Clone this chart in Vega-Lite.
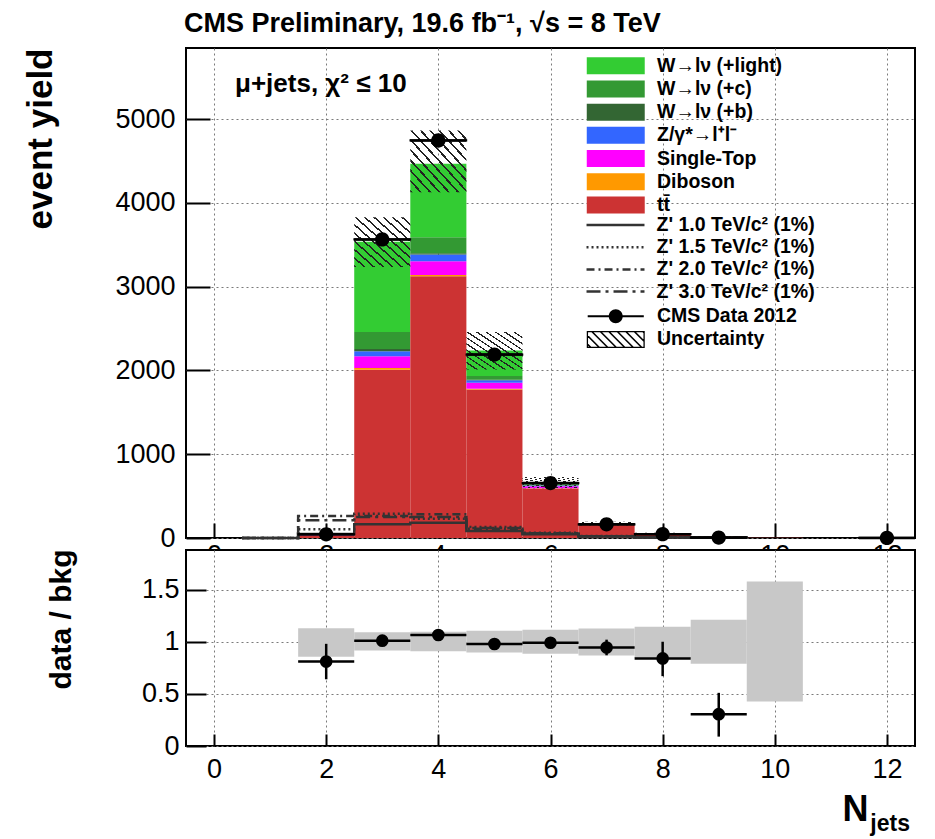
{
  "$schema": "https://vega.github.io/schema/vega-lite/v6.json",
  "background": "white",
  "padding": {"left": 22, "top": 10, "right": 10, "bottom": 0},
  "title": {
    "text": "CMS Preliminary, 19.6 fb⁻¹, √s = 8 TeV",
    "anchor": "start",
    "frame": "bounds",
    "dx": 162,
    "offset": 9,
    "font": "Liberation Sans, Arial, sans-serif",
    "fontSize": 27,
    "fontWeight": "bold",
    "color": "black"
  },
  "datasets": {
    "bkg": [
      {"lo": 1.5, "hi": 2.5, "proc": "tt̄", "k": 0, "ev": 30},
      {"lo": 1.5, "hi": 2.5, "proc": "Diboson", "k": 1, "ev": 1},
      {"lo": 1.5, "hi": 2.5, "proc": "Single-Top", "k": 2, "ev": 4},
      {"lo": 1.5, "hi": 2.5, "proc": "Z/γ*→l⁺l⁻", "k": 3, "ev": 3},
      {"lo": 1.5, "hi": 2.5, "proc": "W→lν (+b)", "k": 4, "ev": 1},
      {"lo": 1.5, "hi": 2.5, "proc": "W→lν (+c)", "k": 5, "ev": 3},
      {"lo": 1.5, "hi": 2.5, "proc": "W→lν (+light)", "k": 6, "ev": 12},
      {"lo": 2.5, "hi": 3.5, "proc": "tt̄", "k": 0, "ev": 2010},
      {"lo": 2.5, "hi": 3.5, "proc": "Diboson", "k": 1, "ev": 20},
      {"lo": 2.5, "hi": 3.5, "proc": "Single-Top", "k": 2, "ev": 140},
      {"lo": 2.5, "hi": 3.5, "proc": "Z/γ*→l⁺l⁻", "k": 3, "ev": 61},
      {"lo": 2.5, "hi": 3.5, "proc": "W→lν (+b)", "k": 4, "ev": 24},
      {"lo": 2.5, "hi": 3.5, "proc": "W→lν (+c)", "k": 5, "ev": 203},
      {"lo": 2.5, "hi": 3.5, "proc": "W→lν (+light)", "k": 6, "ev": 1078},
      {"lo": 3.5, "hi": 4.5, "proc": "tt̄", "k": 0, "ev": 3126},
      {"lo": 3.5, "hi": 4.5, "proc": "Diboson", "k": 1, "ev": 15},
      {"lo": 3.5, "hi": 4.5, "proc": "Single-Top", "k": 2, "ev": 164},
      {"lo": 3.5, "hi": 4.5, "proc": "Z/γ*→l⁺l⁻", "k": 3, "ev": 80},
      {"lo": 3.5, "hi": 4.5, "proc": "W→lν (+b)", "k": 4, "ev": 16},
      {"lo": 3.5, "hi": 4.5, "proc": "W→lν (+c)", "k": 5, "ev": 191},
      {"lo": 3.5, "hi": 4.5, "proc": "W→lν (+light)", "k": 6, "ev": 875},
      {"lo": 4.5, "hi": 5.5, "proc": "tt̄", "k": 0, "ev": 1774},
      {"lo": 4.5, "hi": 5.5, "proc": "Diboson", "k": 1, "ev": 8},
      {"lo": 4.5, "hi": 5.5, "proc": "Single-Top", "k": 2, "ev": 71},
      {"lo": 4.5, "hi": 5.5, "proc": "Z/γ*→l⁺l⁻", "k": 3, "ev": 29},
      {"lo": 4.5, "hi": 5.5, "proc": "W→lν (+b)", "k": 4, "ev": 8},
      {"lo": 4.5, "hi": 5.5, "proc": "W→lν (+c)", "k": 5, "ev": 43},
      {"lo": 4.5, "hi": 5.5, "proc": "W→lν (+light)", "k": 6, "ev": 307},
      {"lo": 5.5, "hi": 6.5, "proc": "tt̄", "k": 0, "ev": 590},
      {"lo": 5.5, "hi": 6.5, "proc": "Diboson", "k": 1, "ev": 3},
      {"lo": 5.5, "hi": 6.5, "proc": "Single-Top", "k": 2, "ev": 25},
      {"lo": 5.5, "hi": 6.5, "proc": "Z/γ*→l⁺l⁻", "k": 3, "ev": 8},
      {"lo": 5.5, "hi": 6.5, "proc": "W→lν (+b)", "k": 4, "ev": 5},
      {"lo": 5.5, "hi": 6.5, "proc": "W→lν (+c)", "k": 5, "ev": 10},
      {"lo": 5.5, "hi": 6.5, "proc": "W→lν (+light)", "k": 6, "ev": 22},
      {"lo": 6.5, "hi": 7.5, "proc": "tt̄", "k": 0, "ev": 158},
      {"lo": 6.5, "hi": 7.5, "proc": "Diboson", "k": 1, "ev": 1},
      {"lo": 6.5, "hi": 7.5, "proc": "Single-Top", "k": 2, "ev": 5},
      {"lo": 6.5, "hi": 7.5, "proc": "Z/γ*→l⁺l⁻", "k": 3, "ev": 2},
      {"lo": 6.5, "hi": 7.5, "proc": "W→lν (+b)", "k": 4, "ev": 1},
      {"lo": 6.5, "hi": 7.5, "proc": "W→lν (+c)", "k": 5, "ev": 2},
      {"lo": 6.5, "hi": 7.5, "proc": "W→lν (+light)", "k": 6, "ev": 4},
      {"lo": 7.5, "hi": 8.5, "proc": "tt̄", "k": 0, "ev": 50},
      {"lo": 7.5, "hi": 8.5, "proc": "Diboson", "k": 1, "ev": 0.5},
      {"lo": 7.5, "hi": 8.5, "proc": "Single-Top", "k": 2, "ev": 1.5},
      {"lo": 7.5, "hi": 8.5, "proc": "Z/γ*→l⁺l⁻", "k": 3, "ev": 0.5},
      {"lo": 7.5, "hi": 8.5, "proc": "W→lν (+b)", "k": 4, "ev": 0.5},
      {"lo": 7.5, "hi": 8.5, "proc": "W→lν (+c)", "k": 5, "ev": 0.5},
      {"lo": 7.5, "hi": 8.5, "proc": "W→lν (+light)", "k": 6, "ev": 1.5},
      {"lo": 8.5, "hi": 9.5, "proc": "tt̄", "k": 0, "ev": 14.5},
      {"lo": 8.5, "hi": 9.5, "proc": "Single-Top", "k": 2, "ev": 0.6},
      {"lo": 8.5, "hi": 9.5, "proc": "W→lν (+light)", "k": 6, "ev": 1.3},
      {"lo": 9.5, "hi": 10.5, "proc": "tt̄", "k": 0, "ev": 3},
      {"lo": 9.5, "hi": 10.5, "proc": "Single-Top", "k": 2, "ev": 0.2},
      {"lo": 9.5, "hi": 10.5, "proc": "W→lν (+light)", "k": 6, "ev": 0.3},
      {"lo": 10.5, "hi": 11.5, "proc": "tt̄", "k": 0, "ev": 0.8}
    ],
    "unc": [
      {"lo": 1.5, "hi": 2.5, "dn": 47, "up": 61},
      {"lo": 2.5, "hi": 3.5, "dn": 3235, "up": 3830},
      {"lo": 3.5, "hi": 4.5, "dn": 4129, "up": 4865},
      {"lo": 4.5, "hi": 5.5, "dn": 2013, "up": 2458},
      {"lo": 5.5, "hi": 6.5, "dn": 593, "up": 728},
      {"lo": 6.5, "hi": 7.5, "dn": 150, "up": 195},
      {"lo": 7.5, "hi": 8.5, "dn": 46, "up": 63},
      {"lo": 8.5, "hi": 9.5, "dn": 13, "up": 20},
      {"lo": 9.5, "hi": 10.5, "dn": 1.5, "up": 5.5}
    ],
    "sig": [
      {"sig": "Z' 1.0 TeV/c² (1%)", "edge": 0.5, "ev": 0},
      {"sig": "Z' 1.0 TeV/c² (1%)", "edge": 1.5, "ev": 48},
      {"sig": "Z' 1.0 TeV/c² (1%)", "edge": 2.5, "ev": 163},
      {"sig": "Z' 1.0 TeV/c² (1%)", "edge": 3.5, "ev": 183},
      {"sig": "Z' 1.0 TeV/c² (1%)", "edge": 4.5, "ev": 84},
      {"sig": "Z' 1.0 TeV/c² (1%)", "edge": 5.5, "ev": 44},
      {"sig": "Z' 1.0 TeV/c² (1%)", "edge": 6.5, "ev": 18},
      {"sig": "Z' 1.0 TeV/c² (1%)", "edge": 7.5, "ev": 6},
      {"sig": "Z' 1.0 TeV/c² (1%)", "edge": 8.5, "ev": 2},
      {"sig": "Z' 1.0 TeV/c² (1%)", "edge": 9.5, "ev": 0},
      {"sig": "Z' 1.5 TeV/c² (1%)", "edge": 0.5, "ev": 0},
      {"sig": "Z' 1.5 TeV/c² (1%)", "edge": 1.5, "ev": 104},
      {"sig": "Z' 1.5 TeV/c² (1%)", "edge": 2.5, "ev": 290},
      {"sig": "Z' 1.5 TeV/c² (1%)", "edge": 3.5, "ev": 231},
      {"sig": "Z' 1.5 TeV/c² (1%)", "edge": 4.5, "ev": 131},
      {"sig": "Z' 1.5 TeV/c² (1%)", "edge": 5.5, "ev": 64},
      {"sig": "Z' 1.5 TeV/c² (1%)", "edge": 6.5, "ev": 25},
      {"sig": "Z' 1.5 TeV/c² (1%)", "edge": 7.5, "ev": 8},
      {"sig": "Z' 1.5 TeV/c² (1%)", "edge": 8.5, "ev": 3},
      {"sig": "Z' 1.5 TeV/c² (1%)", "edge": 9.5, "ev": 0},
      {"sig": "Z' 2.0 TeV/c² (1%)", "edge": 0.5, "ev": 0},
      {"sig": "Z' 2.0 TeV/c² (1%)", "edge": 1.5, "ev": 262},
      {"sig": "Z' 2.0 TeV/c² (1%)", "edge": 2.5, "ev": 262},
      {"sig": "Z' 2.0 TeV/c² (1%)", "edge": 3.5, "ev": 283},
      {"sig": "Z' 2.0 TeV/c² (1%)", "edge": 4.5, "ev": 110},
      {"sig": "Z' 2.0 TeV/c² (1%)", "edge": 5.5, "ev": 55},
      {"sig": "Z' 2.0 TeV/c² (1%)", "edge": 6.5, "ev": 20},
      {"sig": "Z' 2.0 TeV/c² (1%)", "edge": 7.5, "ev": 7},
      {"sig": "Z' 2.0 TeV/c² (1%)", "edge": 8.5, "ev": 2},
      {"sig": "Z' 2.0 TeV/c² (1%)", "edge": 9.5, "ev": 0},
      {"sig": "Z' 3.0 TeV/c² (1%)", "edge": 0.5, "ev": 0},
      {"sig": "Z' 3.0 TeV/c² (1%)", "edge": 1.5, "ev": 211},
      {"sig": "Z' 3.0 TeV/c² (1%)", "edge": 2.5, "ev": 250},
      {"sig": "Z' 3.0 TeV/c² (1%)", "edge": 3.5, "ev": 250},
      {"sig": "Z' 3.0 TeV/c² (1%)", "edge": 4.5, "ev": 120},
      {"sig": "Z' 3.0 TeV/c² (1%)", "edge": 5.5, "ev": 58},
      {"sig": "Z' 3.0 TeV/c² (1%)", "edge": 6.5, "ev": 22},
      {"sig": "Z' 3.0 TeV/c² (1%)", "edge": 7.5, "ev": 8},
      {"sig": "Z' 3.0 TeV/c² (1%)", "edge": 8.5, "ev": 3},
      {"sig": "Z' 3.0 TeV/c² (1%)", "edge": 9.5, "ev": 0}
    ],
    "obs": [
      {"n": 2, "lo": 1.5, "hi": 2.5, "ev": 44},
      {"n": 3, "lo": 2.5, "hi": 3.5, "ev": 3565},
      {"n": 4, "lo": 3.5, "hi": 4.5, "ev": 4746},
      {"n": 5, "lo": 4.5, "hi": 5.5, "ev": 2190},
      {"n": 6, "lo": 5.5, "hi": 6.5, "ev": 656},
      {"n": 7, "lo": 6.5, "hi": 7.5, "ev": 163},
      {"n": 8, "lo": 7.5, "hi": 8.5, "ev": 46},
      {"n": 9, "lo": 8.5, "hi": 9.5, "ev": 5},
      {"n": 12, "lo": 11.5, "hi": 12.5, "ev": 1}
    ],
    "ratio": [
      {"n": 2, "lo": 1.5, "hi": 2.5, "r": 0.81, "rlo": 0.64, "rhi": 0.98, "blo": 0.856, "bhi": 1.13},
      {"n": 3, "lo": 2.5, "hi": 3.5, "r": 1.01, "rlo": 0.99, "rhi": 1.03, "blo": 0.917, "bhi": 1.09},
      {"n": 4, "lo": 3.5, "hi": 4.5, "r": 1.065, "rlo": 1.05, "rhi": 1.08, "blo": 0.91, "bhi": 1.095},
      {"n": 5, "lo": 4.5, "hi": 5.5, "r": 0.978, "rlo": 0.958, "rhi": 0.998, "blo": 0.897, "bhi": 1.105},
      {"n": 6, "lo": 5.5, "hi": 6.5, "r": 0.99, "rlo": 0.955, "rhi": 1.025, "blo": 0.885, "bhi": 1.115},
      {"n": 7, "lo": 6.5, "hi": 7.5, "r": 0.945, "rlo": 0.87, "rhi": 1.02, "blo": 0.868, "bhi": 1.128},
      {"n": 8, "lo": 7.5, "hi": 8.5, "r": 0.84, "rlo": 0.67, "rhi": 1.0, "blo": 0.843, "bhi": 1.144},
      {"n": 9, "lo": 8.5, "hi": 9.5, "r": 0.305, "rlo": 0.09, "rhi": 0.51, "blo": 0.79, "bhi": 1.21},
      {"n": 10, "lo": 9.5, "hi": 10.5, "r": null, "rlo": null, "rhi": null, "blo": 0.426, "bhi": 1.577}
    ]
  },
  "spacing": 12,
  "bounds": "flush",
  "resolve": {
    "scale": {"x": "independent", "y": "independent", "fill": "independent", "strokeDash": "independent", "shape": "independent"},
    "legend": {"fill": "independent", "strokeDash": "independent", "shape": "independent"}
  },
  "vconcat": [
    {
      "width": 729,
      "height": 490,
      "layer": [
        {
          "data": {"name": "bkg"},
          "transform": [
            {"stack": "ev", "groupby": ["lo"], "sort": [{"field": "k", "order": "ascending"}], "as": ["y0", "y1"]}
          ],
          "mark": {"type": "rect"},
          "encoding": {
            "x": {
              "field": "lo", "type": "quantitative",
              "scale": {"domain": [-0.5, 12.5], "nice": false, "zero": false},
              "axis": {
                "values": [0, 2, 4, 6, 8, 10, 12], "format": "d", "title": null,
                "grid": true, "tickSize": -15, "labelPadding": 19,
                "labelFont": "Liberation Sans, Arial, sans-serif", "labelFontSize": 27
              }
            },
            "x2": {"field": "hi"},
            "y": {
              "field": "y0", "type": "quantitative",
              "scale": {"domain": [0, 5850], "nice": false},
              "axis": {
                "values": [0, 1000, 2000, 3000, 4000, 5000], "format": "d",
                "grid": true, "tickSize": -24, "labelPadding": 35,
                "labelFont": "Liberation Sans, Arial, sans-serif", "labelFontSize": 27,
                "title": "event yield", "titleFont": "Liberation Sans, Arial, sans-serif", "titleFontSize": 35,
                "titleFontWeight": "bold", "titleAngle": 270, "titleAlign": "right",
                "titleBaseline": "alphabetic", "titleX": -135, "titleY": 0
              }
            },
            "y2": {"field": "y1"},
            "fill": {
              "field": "proc", "type": "nominal",
              "scale": {
                "domain": ["W→lν (+light)", "W→lν (+c)", "W→lν (+b)", "Z/γ*→l⁺l⁻", "Single-Top", "Diboson", "tt̄"],
                "range": ["#33cc33", "#339933", "#336633", "#3366ff", "#ff00ff", "#ff9900", "#cc3333"]
              },
              "legend": {
                "title": null, "orient": "none", "legendX": 420, "legendY": 8,
                "padding": 0, "rowPadding": 2.2,
                "symbolType": "M-3.41,-1H3.41V1H-3.41Z", "symbolSize": 289, "symbolStrokeWidth": 0,
                "labelFont": "Liberation Sans, Arial, sans-serif", "labelFontSize": 19.5, "labelFontWeight": "bold",
                "labelColor": "black", "labelOffset": 31.5, "labelLimit": 400
              }
            }
          }
        },
        {
          "data": {"name": "unc"},
          "mark": {
            "type": "rect",
            "fill": {
              "gradient": "linear", "x1": 0, "y1": 1, "x2": 1, "y2": 0,
              "stops": [
                {"offset": 0, "color": "#222"}, {"offset": 0.02, "color": "#222"}, {"offset": 0.02, "color": "rgba(0,0,0,0)"}, {"offset": 0.0833, "color": "rgba(0,0,0,0)"},
                {"offset": 0.0833, "color": "#222"}, {"offset": 0.1033, "color": "#222"}, {"offset": 0.1033, "color": "rgba(0,0,0,0)"}, {"offset": 0.1667, "color": "rgba(0,0,0,0)"},
                {"offset": 0.1667, "color": "#222"}, {"offset": 0.1867, "color": "#222"}, {"offset": 0.1867, "color": "rgba(0,0,0,0)"}, {"offset": 0.25, "color": "rgba(0,0,0,0)"},
                {"offset": 0.25, "color": "#222"}, {"offset": 0.27, "color": "#222"}, {"offset": 0.27, "color": "rgba(0,0,0,0)"}, {"offset": 0.3333, "color": "rgba(0,0,0,0)"},
                {"offset": 0.3333, "color": "#222"}, {"offset": 0.3533, "color": "#222"}, {"offset": 0.3533, "color": "rgba(0,0,0,0)"}, {"offset": 0.4167, "color": "rgba(0,0,0,0)"},
                {"offset": 0.4167, "color": "#222"}, {"offset": 0.4367, "color": "#222"}, {"offset": 0.4367, "color": "rgba(0,0,0,0)"}, {"offset": 0.5, "color": "rgba(0,0,0,0)"},
                {"offset": 0.5, "color": "#222"}, {"offset": 0.52, "color": "#222"}, {"offset": 0.52, "color": "rgba(0,0,0,0)"}, {"offset": 0.5833, "color": "rgba(0,0,0,0)"},
                {"offset": 0.5833, "color": "#222"}, {"offset": 0.6033, "color": "#222"}, {"offset": 0.6033, "color": "rgba(0,0,0,0)"}, {"offset": 0.6667, "color": "rgba(0,0,0,0)"},
                {"offset": 0.6667, "color": "#222"}, {"offset": 0.6867, "color": "#222"}, {"offset": 0.6867, "color": "rgba(0,0,0,0)"}, {"offset": 0.75, "color": "rgba(0,0,0,0)"},
                {"offset": 0.75, "color": "#222"}, {"offset": 0.77, "color": "#222"}, {"offset": 0.77, "color": "rgba(0,0,0,0)"}, {"offset": 0.8333, "color": "rgba(0,0,0,0)"},
                {"offset": 0.8333, "color": "#222"}, {"offset": 0.8533, "color": "#222"}, {"offset": 0.8533, "color": "rgba(0,0,0,0)"}, {"offset": 0.9167, "color": "rgba(0,0,0,0)"},
                {"offset": 0.9167, "color": "#222"}, {"offset": 0.9367, "color": "#222"}, {"offset": 0.9367, "color": "rgba(0,0,0,0)"}, {"offset": 1, "color": "rgba(0,0,0,0)"}
              ]
            }
          },
          "encoding": {
            "x": {"field": "lo", "type": "quantitative"},
            "x2": {"field": "hi"},
            "y": {"field": "dn", "type": "quantitative"},
            "y2": {"field": "up"}
          }
        },
        {
          "data": {"name": "sig"},
          "mark": {"type": "line", "interpolate": "step-after", "color": "#333", "strokeWidth": 2.5},
          "encoding": {
            "x": {"field": "edge", "type": "quantitative"},
            "y": {"field": "ev", "type": "quantitative"},
            "strokeDash": {
              "field": "sig", "type": "nominal",
              "scale": {
                "domain": ["Z' 1.0 TeV/c² (1%)", "Z' 1.5 TeV/c² (1%)", "Z' 2.0 TeV/c² (1%)", "Z' 3.0 TeV/c² (1%)"],
                "range": [[1, 0], [2, 3], [8, 4, 2, 4], [14, 5, 3, 5]]
              },
              "legend": {
                "title": null, "orient": "none", "legendX": 419.5, "legendY": 167,
                "padding": 0, "rowPadding": 2.2,
                "symbolType": "M-3.41,0H3.41", "symbolSize": 289,
                "symbolStrokeColor": "#333", "symbolStrokeWidth": 2.5,
                "labelFont": "Liberation Sans, Arial, sans-serif", "labelFontSize": 19.5, "labelFontWeight": "bold",
                "labelColor": "black", "labelOffset": 31, "labelLimit": 400
              }
            }
          }
        },
        {
          "data": {"name": "obs"},
          "mark": {"type": "rule", "color": "black", "strokeWidth": 2.5},
          "encoding": {
            "x": {"field": "lo", "type": "quantitative"},
            "x2": {"field": "hi"},
            "y": {"field": "ev", "type": "quantitative"}
          }
        },
        {
          "data": {"name": "obs"},
          "mark": {"type": "point", "filled": true, "color": "black", "opacity": 1, "size": 306, "stroke": "transparent"},
          "encoding": {
            "x": {"field": "n", "type": "quantitative"},
            "y": {"field": "ev", "type": "quantitative"},
            "shape": {
              "datum": "CMS Data 2012", "type": "nominal",
              "scale": {
                "domain": ["CMS Data 2012", "Uncertainty"],
                "range": [
                  "M-3.3,-0.13H3.3V0.13H-3.3ZM-0.82,0A0.82,0.82,0,1,1,0.82,0A0.82,0.82,0,1,1,-0.82,0Z",
                  "M-3.41,-1H3.41V-0.85H-3.41ZM-3.41,0.85H3.41V1H-3.41ZM-3.41,-1H-3.26V1H-3.41ZM3.26,-1H3.41V1H3.26ZM-3.41,0.34L-2.75,1L-3,1L-3.41,0.59ZM-3.41,-0.66L-1.75,1L-2,1L-3.41,-0.41ZM-3,-1L-2.75,-1L-0.75,1L-1,1ZM-2,-1L-1.75,-1L0.25,1L0,1ZM-1,-1L-0.75,-1L1.25,1L1,1ZM0,-1L0.25,-1L2.25,1L2,1ZM1,-1L1.25,-1L3.25,1L3,1ZM2,-1L2.25,-1L3.41,0.16L3.41,0.41ZM3,-1L3.25,-1L3.41,-0.84L3.41,-0.59Z"
                ]
              },
              "legend": {
                "title": null, "orient": "none", "legendX": 420, "legendY": 258.5,
                "padding": 0, "rowPadding": 2.2,
                "symbolSize": 289, "symbolStrokeWidth": 0,
                "labelFont": "Liberation Sans, Arial, sans-serif", "labelFontSize": 19.5, "labelFontWeight": "bold",
                "labelColor": "black", "labelOffset": 31.5, "labelLimit": 400
              }
            }
          }
        },
        {
          "data": {"values": [{"label": "μ+jets, χ² ≤ 10"}]},
          "mark": {"type": "text", "font": "Liberation Sans, Arial, sans-serif", "fontSize": 26, "fontWeight": "bold", "color": "black", "align": "left", "baseline": "alphabetic"},
          "encoding": {
            "text": {"field": "label"},
            "x": {"datum": 0.374, "type": "quantitative"},
            "y": {"datum": 5330, "type": "quantitative"}
          }
        }
      ]
    },
    {
      "width": 729,
      "height": 196,
      "title": {
        "text": "jets", "orient": "bottom", "anchor": "end", "frame": "group",
        "font": "Liberation Sans, Arial, sans-serif", "fontSize": 23, "fontWeight": "bold", "color": "black",
        "offset": -14, "dx": -5
      },
      "layer": [
        {
          "data": {"name": "ratio"},
          "mark": {"type": "rect", "color": "#c8c8c8"},
          "encoding": {
            "x": {
              "field": "lo", "type": "quantitative",
              "scale": {"domain": [-0.5, 12.5], "nice": false, "zero": false},
              "axis": {
                "values": [0, 2, 4, 6, 8, 10, 12], "format": "d",
                "grid": true, "tickSize": -12, "labelPadding": 22,
                "labelFont": "Liberation Sans, Arial, sans-serif", "labelFontSize": 27,
                "title": "N", "titleFont": "Liberation Sans, Arial, sans-serif", "titleFontSize": 36, "titleFontWeight": "bold",
                "titleAlign": "right", "titleBaseline": "alphabetic", "titleX": 682, "titleY": 74
              }
            },
            "x2": {"field": "hi"},
            "y": {
              "field": "blo", "type": "quantitative",
              "scale": {"domain": [0, 1.88], "nice": false},
              "axis": {
                "values": [0, 0.5, 1, 1.5], "format": "~g",
                "grid": true, "tickSize": -20, "labelPadding": 27,
                "labelFont": "Liberation Sans, Arial, sans-serif", "labelFontSize": 27,
                "title": "data / bkg", "titleFont": "Liberation Sans, Arial, sans-serif", "titleFontSize": 30,
                "titleFontWeight": "bold", "titleAngle": 270, "titleAlign": "right",
                "titleBaseline": "alphabetic", "titleX": -116, "titleY": -1
              }
            },
            "y2": {"field": "bhi"}
          }
        },
        {
          "data": {"name": "ratio"},
          "mark": {"type": "rule", "color": "black", "strokeWidth": 2.5},
          "encoding": {
            "x": {"field": "lo", "type": "quantitative"},
            "x2": {"field": "hi"},
            "y": {"field": "r", "type": "quantitative"}
          }
        },
        {
          "data": {"name": "ratio"},
          "mark": {"type": "rule", "color": "black", "strokeWidth": 2.5},
          "encoding": {
            "x": {"field": "n", "type": "quantitative"},
            "y": {"field": "rlo", "type": "quantitative"},
            "y2": {"field": "rhi"}
          }
        },
        {
          "data": {"name": "ratio"},
          "mark": {"type": "circle", "color": "black", "opacity": 1, "size": 160},
          "encoding": {
            "x": {"field": "n", "type": "quantitative"},
            "y": {"field": "r", "type": "quantitative"}
          }
        }
      ]
    }
  ],
  "config": {
    "font": "Liberation Sans, Arial, sans-serif",
    "view": {"stroke": "black", "strokeWidth": 2, "fill": "white"},
    "axis": {
      "domain": false,
      "tickColor": "black", "tickWidth": 2,
      "gridColor": "#7a7a7a", "gridDash": [2, 3], "gridWidth": 1,
      "labelColor": "black", "titleColor": "black"
    }
  }
}
